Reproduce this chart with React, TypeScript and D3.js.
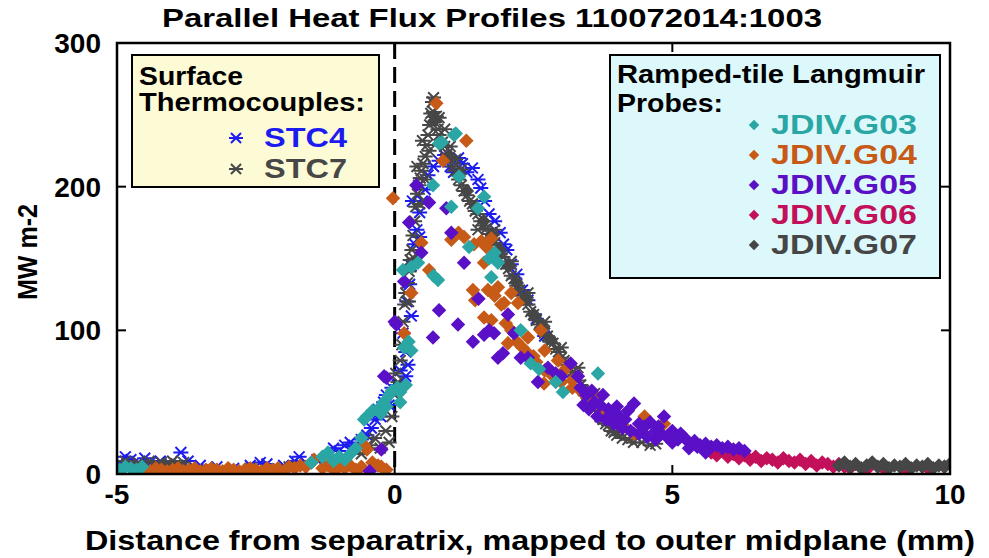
import React from "react";
import * as d3 from "d3";

type P = [number, number];

const xTicks = [-5, 0, 5, 10];
const yTicks = [0, 100, 200, 300];

const titleText = "Parallel Heat Flux Profiles 110072014:1003";
const xLabel = "Distance from separatrix, mapped to outer midplane (mm)";
const yLabel = "MW m-2";

const stc4: P[] = [
  [-4.95, 8], [-4.85, 12], [-4.75, 10], [-4.62, 7], [-4.5, 11], [-4.4, 8], [-4.22, 9], [-4.05, 7], [-3.85, 15], [-3.72, 9],
  [-3.5, 6], [-3.2, 5], [-2.9, 4], [-2.6, 6], [-2.42, 8], [-2.3, 7], [-2.0, 6], [-1.8, 9], [-1.72, 12], [-1.6, 8],
  [-1.4, 10], [-1.22, 12], [-1.1, 18], [-1.0, 16], [-0.9, 20], [-0.8, 22], [-0.72, 19], [-0.6, 24], [-0.5, 27], [-0.42, 32],
  [-0.35, 38], [-0.3, 45], [-0.25, 40], [-0.2, 50], [-0.15, 55], [-0.1, 48], [-0.05, 60], [0.05, 62], [0.1, 72], [0.2, 68],
  [0.24, 76], [0.2, 85], [0.22, 120], [0.27, 132], [0.3, 145], [0.36, 160], [0.4, 170], [0.45, 182], [0.5, 190], [0.55, 198],
  [0.6, 208], [0.7, 214], [0.8, 218], [0.9, 222], [1.0, 214], [1.06, 210], [1.15, 220], [1.22, 216], [1.3, 210], [1.4, 213],
  [1.5, 205], [1.55, 199], [1.62, 190], [1.7, 181], [1.8, 176], [1.9, 168], [1.96, 160], [2.02, 156], [2.1, 146], [2.2, 139],
  [2.3, 128], [2.4, 121], [0.32, 190], [0.45, 165], [0.15, 98], [0.3, 110], [2.55, 108], [2.7, 96],
];

const stc7: P[] = [
  [-4.95, 6], [-4.85, 9], [-4.76, 7], [-4.62, 8], [-4.5, 5], [-4.42, 9], [-4.3, 6], [-4.2, 8], [-4.1, 7], [-4.0, 9],
  [-3.9, 6], [-3.8, 8], [-3.3, 3], [-2.6, 4], [-1.9, 5], [-1.2, 6], [-0.9, 10], [-0.6, 14], [-0.45, 20], [-0.36, 25],
  [-0.26, 18], [-0.16, 30], [-0.1, 22], [-0.05, 40], [0.0, 55], [0.02, 70], [0.06, 64], [0.1, 79], [0.13, 90], [0.15, 106],
  [0.18, 118], [0.2, 126], [0.23, 133], [0.26, 141], [0.28, 149], [0.31, 156], [0.33, 166], [0.36, 176], [0.38, 186], [0.41, 195],
  [0.43, 201], [0.46, 206], [0.48, 211], [0.51, 216], [0.55, 221], [0.58, 229], [0.6, 236], [0.63, 243], [0.65, 251], [0.68, 259],
  [0.7, 252], [0.72, 245], [0.75, 249], [0.78, 240], [0.8, 236], [0.86, 231], [0.9, 228], [0.95, 223], [1.0, 219], [1.05, 214],
  [1.1, 211], [1.15, 205], [1.2, 201], [1.25, 197], [1.3, 194], [1.35, 190], [1.4, 188], [1.45, 183], [1.5, 181], [1.55, 176],
  [1.6, 173], [1.65, 171], [1.7, 167], [1.75, 163], [1.8, 161], [1.85, 157], [1.9, 153], [1.95, 151], [2.0, 146], [2.05, 143],
  [2.1, 138], [2.15, 136], [2.2, 131], [2.25, 128], [2.3, 124], [2.35, 121], [2.4, 118], [2.45, 113], [2.5, 111], [2.55, 107],
  [2.6, 104], [2.65, 102], [2.7, 98], [2.75, 96], [2.8, 92], [2.85, 91], [2.9, 87], [2.95, 85], [3.0, 81], [3.05, 79],
  [3.1, 76], [3.15, 74], [3.2, 71], [3.25, 69], [3.3, 65], [3.35, 62], [3.4, 58], [3.45, 56], [3.5, 52], [3.55, 49],
  [3.6, 46], [3.65, 44], [3.7, 40], [3.75, 38], [3.8, 35], [3.85, 34], [3.9, 30], [3.95, 29], [4.0, 27], [4.1, 25],
  [4.2, 24], [4.3, 22], [4.45, 22], [4.6, 20], [4.7, 21], [0.55, 205], [0.62, 225], [0.5, 232], [0.45, 188], [0.4, 214],
  [0.35, 150], [0.25, 120], [1.2, 212], [1.5, 170], [1.8, 170], [2.1, 148], [2.4, 126], [2.7, 106], [3.0, 88], [3.3, 74],
  [3.6, 56], [3.9, 38], [4.15, 30], [0.7, 262], [0.8, 248], [0.9, 240], [1.0, 228], [1.1, 219],
];

const g03: P[] = [
  [-4.95, 3], [-4.85, 5], [-4.75, 4], [-4.65, 3], [-4.55, 5], [-1.5, 8], [-1.3, 12], [-1.2, 15], [-1.1, 9], [-1.0, 12],
  [-0.9, 10], [-0.8, 14], [-0.7, 18], [-0.6, 25], [-0.55, 38], [-0.5, 40], [-0.4, 44], [-0.3, 45], [-0.25, 42], [-0.2, 50],
  [-0.15, 47], [-0.1, 55], [-0.05, 58], [0.05, 60], [0.1, 57], [0.17, 88], [0.25, 92], [0.3, 86], [0.15, 142], [0.42, 147],
  [0.3, 144], [0.7, 138], [0.78, 135], [0.69, 201], [0.8, 230], [0.85, 231], [1.07, 236], [1.1, 237], [1.16, 207], [1.02, 186],
  [1.5, 185], [1.61, 193], [1.34, 158], [1.7, 150], [1.8, 154], [1.86, 147], [1.74, 137], [2.27, 100], [2.45, 77], [3.03, 57],
  [3.66, 70], [2.6, 73], [2.9, 64], [0.1, 50], [0.2, 62],
];

const g04: P[] = [
  [-4.5, 3], [-4.4, 2], [-4.3, 4], [-4.2, 3], [-4.1, 2], [-4.0, 3], [-3.9, 4], [-3.8, 2], [-3.7, 3], [-3.6, 4],
  [-3.5, 2], [-3.4, 3], [-3.3, 4], [-3.2, 3], [-3.1, 2], [-3.0, 4], [-2.9, 3], [-2.8, 2], [-2.7, 3], [-2.6, 4],
  [-2.5, 3], [-2.4, 2], [-2.3, 4], [-2.2, 3], [-2.1, 4], [-2.0, 2], [-1.9, 5], [-1.8, 4], [-1.7, 6], [-1.6, 5],
  [-1.5, 8], [-1.45, 10], [-1.3, 4], [-1.2, 6], [-1.1, 3], [-1.0, 5], [-0.9, 4], [-0.8, 6], [-0.7, 3], [-0.6, 5],
  [-0.55, 20], [-0.5, 17], [-0.4, 8], [-0.3, 6], [-0.24, 5], [-0.15, 3],
  [-0.03, 192], [0.17, 98], [0.3, 126], [0.48, 161], [0.62, 142], [0.75, 258], [0.87, 218], [1.29, 232], [1.02, 163], [1.15, 168],
  [1.25, 165], [1.43, 160], [1.56, 162], [1.65, 158], [1.74, 164], [1.61, 147], [1.41, 128], [1.45, 121], [1.68, 128], [1.8, 124],
  [1.86, 130], [1.97, 119], [1.61, 109], [1.74, 107], [2.1, 126], [2.22, 119], [2.04, 91], [2.4, 95], [2.63, 100], [2.5, 82],
  [2.7, 86], [2.94, 79], [2.69, 63], [3.0, 70], [3.2, 65], [3.35, 58], [3.1, 74], [3.6, 55], [3.75, 45], [3.95, 36],
  [3.8, 40], [4.13, 33], [4.31, 28], [4.5, 40], [4.85, 35], [1.92, 118], [2.0, 105], [2.1, 100], [2.2, 92], [2.3, 88],
  [2.4, 84], [2.55, 78], [2.7, 72], [2.85, 68], [3.0, 64], [3.2, 60], [3.4, 56], [3.55, 50],
];

const g05: P[] = [
  [-0.45, 2], [-0.24, 17], [-0.19, 68], [-0.15, 67], [0.0, 106], [0.03, 104], [0.17, 134], [0.26, 175], [0.39, 201], [0.48, 154],
  [0.62, 189], [0.69, 95], [0.8, 114], [0.93, 185], [1.02, 168], [1.14, 104], [1.25, 147], [1.41, 92], [1.51, 122], [1.61, 97],
  [1.7, 100], [1.79, 98], [1.86, 81], [1.95, 84], [2.04, 111], [2.15, 98], [2.27, 81], [2.4, 81], [2.58, 64], [2.76, 74],
  [2.9, 70], [3.0, 68], [3.17, 77], [3.3, 68], [3.35, 60], [3.45, 55], [3.55, 58], [3.6, 50], [3.7, 48], [3.75, 55],
  [3.85, 45], [3.9, 42], [4.0, 47], [4.05, 40], [4.15, 38], [4.2, 44], [4.31, 49], [4.4, 35], [4.5, 33], [4.6, 36],
  [4.7, 30], [4.8, 28], [4.85, 40], [4.9, 26], [5.0, 30], [5.1, 24], [5.2, 26], [5.3, 22], [5.4, 23], [5.5, 20],
  [5.6, 21], [5.7, 19], [5.8, 20], [5.9, 18], [6.0, 19], [6.1, 17], [6.2, 18], [6.3, 16], [3.5, 45], [3.8, 38],
  [4.1, 32], [4.4, 28], [4.7, 24], [5.0, 22], [5.3, 18], [5.6, 15], [3.4, 48], [3.65, 40], [3.95, 35], [4.25, 30],
  [4.55, 26], [4.75, 33], [5.15, 28], [5.45, 19],
];

const g06: P[] = [
  [5.7, 15], [5.8, 13], [5.9, 16], [6.0, 12], [6.1, 14], [6.2, 11], [6.3, 13], [6.4, 10], [6.5, 12], [6.6, 9],
  [6.7, 11], [6.8, 10], [6.9, 8], [7.0, 11], [7.1, 9], [7.2, 8], [7.3, 10], [7.4, 7], [7.5, 9], [7.6, 6],
  [7.7, 8], [7.8, 7], [7.9, 5], [8.0, 7], [8.1, 5], [8.2, 4], [8.5, 3], [8.8, 4], [9.2, 3], [9.6, 4], [9.9, 5],
];

const g07: P[] = [
  [8.0, 6], [8.1, 8], [8.2, 5], [8.3, 7], [8.4, 4], [8.5, 6], [8.6, 8], [8.7, 5], [8.8, 7], [8.9, 4],
  [9.0, 6], [9.1, 5], [9.2, 7], [9.3, 4], [9.4, 6], [9.5, 5], [9.6, 7], [9.7, 4], [9.8, 6], [9.9, 5], [10.0, 7],
  [0.72, 246], [1.0, 221], [1.3, 197], [1.6, 176], [1.9, 156], [2.2, 133], [2.5, 111], [2.8, 94], [1.15, 208], [1.45, 186],
  [1.75, 166], [2.05, 145], [2.35, 122], [2.65, 102],
];

const C = {
  stc4: "#1c1cf0",
  stc7: "#474747",
  g03: "#2aa6a4",
  g04: "#c65a16",
  g05: "#5a10c6",
  g06: "#c2105a",
  g07: "#464646",
};

const W = 989;
const H = 558;
const L = 117, R = 950, T = 43, B = 474;
const FONT = "'Liberation Sans', Arial, sans-serif";

const x = d3.scaleLinear().domain([-5, 10]).range([L, R]);
const y = d3.scaleLinear().domain([0, 300]).range([B, T]);

const diamondPath = d3.symbol().type(d3.symbolSquare).size(105)() as string;
const legendDiamond = d3.symbol().type(d3.symbolSquare).size(55)() as string;

function asteriskPath(r: number) {
  const p = d3.path();
  const d = r * 0.72;
  p.moveTo(-r, 0); p.lineTo(r, 0);
  p.moveTo(-d, -d); p.lineTo(d, d);
  p.moveTo(-d, d); p.lineTo(d, -d);
  return p.toString();
}
const astPath = asteriskPath(7.5);
const legendAst = asteriskPath(7);

function Diamonds({ data, color }: { data: P[]; color: string }) {
  return (
    <g fill={color}>
      {data.map((d, i) => (
        <path key={i} d={diamondPath} transform={`translate(${x(d[0])},${y(d[1])}) rotate(45)`} />
      ))}
    </g>
  );
}

function Asterisks({ data, color }: { data: P[]; color: string }) {
  return (
    <g stroke={color} strokeWidth={2} fill="none">
      {data.map((d, i) => (
        <path key={i} d={astPath} transform={`translate(${x(d[0])},${y(d[1])})`} />
      ))}
    </g>
  );
}

const probeLegend: [string, string][] = [
  ["JDIV.G03", C.g03],
  ["JDIV.G04", C.g04],
  ["JDIV.G05", C.g05],
  ["JDIV.G06", C.g06],
  ["JDIV.G07", C.g07],
];

export default function App() {
  return (
    <svg width={W} height={H} style={{ display: "block", position: "absolute", left: 0, top: 0 }} fontFamily={FONT} fontWeight="bold">
      <rect width={W} height={H} fill="#fff" />
      <text x={492} y={27} fontSize={26} textAnchor="middle" textLength={660} lengthAdjust="spacingAndGlyphs">{titleText}</text>

      <defs>
        <clipPath id="plotclip"><rect x={L} y={T - 10} width={R - L} height={B - T + 10} /></clipPath>
      </defs>

      <line x1={x(0)} x2={x(0)} y1={T} y2={B} stroke="#000" strokeWidth={3} strokeDasharray="16,8" />

      <g clipPath="url(#plotclip)">
        <Asterisks data={stc4} color={C.stc4} />
        <Asterisks data={stc7} color={C.stc7} />
        <Diamonds data={g06} color={C.g06} />
        <Diamonds data={g07} color={C.g07} />
        <Diamonds data={g04} color={C.g04} />
        <Diamonds data={g05} color={C.g05} />
        <Diamonds data={g03} color={C.g03} />
      </g>

      {xTicks.map((t) => (
        <g key={"xt" + t}>
          <line x1={x(t)} x2={x(t)} y1={B} y2={B - 9} stroke="#000" strokeWidth={2} />
          <line x1={x(t)} x2={x(t)} y1={T} y2={T + 9} stroke="#000" strokeWidth={2} />
          <text x={x(t)} y={504} fontSize={28} textAnchor="middle">{t}</text>
        </g>
      ))}
      {yTicks.map((t) => (
        <g key={"yt" + t}>
          <line x1={L} x2={L + 9} y1={y(t)} y2={y(t)} stroke="#000" strokeWidth={2} />
          <line x1={R} x2={R - 9} y1={y(t)} y2={y(t)} stroke="#000" strokeWidth={2} />
          <text x={101} y={y(t) + 10} fontSize={28} textAnchor="end">{t}</text>
        </g>
      ))}
      <rect x={L} y={T} width={R - L} height={B - T} fill="none" stroke="#000" strokeWidth={2.5} />

      <text x={530} y={550} fontSize={27} textAnchor="middle" textLength={890} lengthAdjust="spacingAndGlyphs">{xLabel}</text>
      <text transform="translate(37,252) rotate(-90)" fontSize={28} textAnchor="middle" textLength={96} lengthAdjust="spacingAndGlyphs">{yLabel}</text>

      <g>
        <rect x={132} y={55} width={247} height={132} fill="#fdfbd6" stroke="#000" strokeWidth={2} />
        <text x={139} y={85} fontSize={25} textLength={104} lengthAdjust="spacingAndGlyphs">Surface</text>
        <text x={139} y={111} fontSize={25} textLength={226} lengthAdjust="spacingAndGlyphs">Thermocouples:</text>
        <path d={legendAst} transform="translate(236,138)" stroke={C.stc4} strokeWidth={2} fill="none" />
        <text x={264} y={147} fontSize={28} fill={C.stc4} textLength={83} lengthAdjust="spacingAndGlyphs">STC4</text>
        <path d={legendAst} transform="translate(236,169)" stroke={C.stc7} strokeWidth={2} fill="none" />
        <text x={264} y={178} fontSize={28} fill={C.stc7} textLength={83} lengthAdjust="spacingAndGlyphs">STC7</text>
      </g>

      <g>
        <rect x={610} y={55} width={330} height={223} fill="#ddf8fa" stroke="#000" strokeWidth={2} />
        <text x={617} y={83} fontSize={26} textLength={308} lengthAdjust="spacingAndGlyphs">Ramped-tile Langmuir</text>
        <text x={617} y={112} fontSize={26} textLength={106} lengthAdjust="spacingAndGlyphs">Probes:</text>
        {probeLegend.map(([name, col], i) => (
          <g key={name}>
            <path d={legendDiamond} transform={`translate(754,${125 + i * 30}) rotate(45)`} fill={col} />
            <text x={771} y={134 + i * 30} fontSize={28} fill={col} textLength={146} lengthAdjust="spacingAndGlyphs">{name}</text>
          </g>
        ))}
      </g>
    </svg>
  );
}
